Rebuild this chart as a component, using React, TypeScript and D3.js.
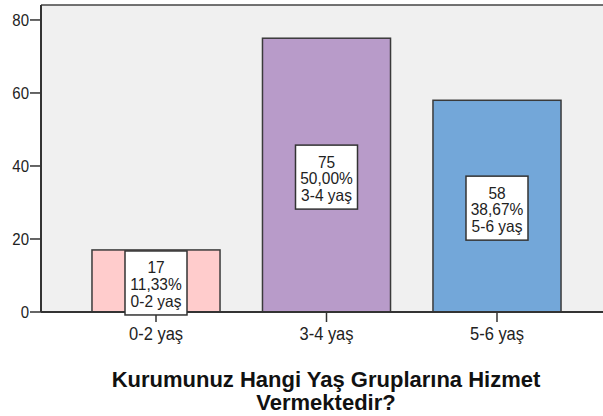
import React from "react";
import * as d3 from "d3";

const categories = ["0-2 yaş", "3-4 yaş", "5-6 yaş"];
const counts = [17, 75, 58];
const percents = ["11,33%", "50,00%", "38,67%"];
const barColors = ["#ffcccc", "#b89bc9", "#73a7d9"];
const yTicks = [0, 20, 40, 60, 80];
const titleLines = ["Kurumunuz Hangi Yaş Gruplarına Hizmet", "Vermektedir?"];

const W = 603;
const H = 416;
const plotLeft = 41;
const plotRight = 612;
const plotTop = 5;
const plotBottom = 312;
const FONT = "Arial, 'Liberation Sans', sans-serif";

function SText(props: {
  x: number;
  y: number;
  sy: number;
  size: number;
  anchor?: string;
  weight?: string;
  fill?: string;
  children: React.ReactNode;
}) {
  return (
    <text
      transform={`translate(${props.x},${props.y}) scale(1,${props.sy})`}
      textAnchor={props.anchor || "middle"}
      fontSize={props.size}
      fontWeight={props.weight || "normal"}
      fill={props.fill || "#222"}
    >
      {props.children}
    </text>
  );
}

export default function App() {
  const x = d3
    .scaleBand<string>()
    .domain(categories)
    .range([plotLeft, plotRight])
    .paddingInner(0.249)
    .paddingOuter(0.299);
  const y = d3.scaleLinear().domain([0, 84.1]).range([plotBottom, plotTop]);

  return (
    <svg
      width={W}
      height={H}
      style={{ position: "absolute", left: 0, top: 0, background: "#fff" }}
      fontFamily={FONT}
    >
      <rect x={plotLeft} y={plotTop} width={W - plotLeft} height={plotBottom - plotTop} fill="#f0f0f0" />
      <line x1={plotLeft} x2={W} y1={plotTop} y2={plotTop} stroke="#444" strokeWidth={1.5} />

      {categories.map((c, i) => {
        const bx = x(c)!;
        const bw = x.bandwidth();
        const top = y(counts[i]);
        return (
          <rect
            key={c}
            x={bx}
            y={top}
            width={bw}
            height={y(0) - top}
            fill={barColors[i]}
            stroke="#3a3a3a"
            strokeWidth={1.5}
          />
        );
      })}

      {/* y axis */}
      <line x1={plotLeft} x2={plotLeft} y1={plotTop} y2={plotBottom} stroke="#333" strokeWidth={2} />
      {yTicks.map((t) => (
        <g key={t}>
          <line x1={plotLeft - 11} x2={plotLeft} y1={y(t)} y2={y(t)} stroke="#333" strokeWidth={1.5} />
          <SText x={plotLeft - 12} y={y(t) + 6} sy={1.15} size={15} anchor="end">
            {t}
          </SText>
        </g>
      ))}

      {/* x axis */}
      <line x1={plotLeft} x2={W} y1={plotBottom} y2={plotBottom} stroke="#333" strokeWidth={2} />
      {categories.map((c) => {
        const cx = x(c)! + x.bandwidth() / 2;
        return (
          <g key={c}>
            <line x1={cx} x2={cx} y1={plotBottom} y2={plotBottom + 10} stroke="#333" strokeWidth={1.5} />
            <SText x={cx} y={340} sy={1.12} size={16.5}>
              {c}
            </SText>
          </g>
        );
      })}

      {/* label boxes */}
      {categories.map((c, i) => {
        const cx = x(c)! + x.bandwidth() / 2;
        const cy = (y(counts[i]) + y(0)) / 2 + 2;
        const bw = 62;
        const bh = 64;
        const top = cy - bh / 2;
        const lines = [String(counts[i]), percents[i], c];
        return (
          <g key={c}>
            <rect x={cx - bw / 2} y={top} width={bw} height={bh} fill="#fff" stroke="#333" strokeWidth={1.5} />
            {lines.map((l, j) => (
              <SText key={j} x={cx} y={top + 22.5 + j * 16.8} sy={1.05} size={15.5}>
                {l}
              </SText>
            ))}
          </g>
        );
      })}

      {/* title */}
      {titleLines.map((l, j) => (
        <text
          key={j}
          x={326}
          y={387 + j * 23}
          textAnchor="middle"
          fontSize={22}
          fontWeight="bold"
          fill="#111"
        >
          {l}
        </text>
      ))}
    </svg>
  );
}
